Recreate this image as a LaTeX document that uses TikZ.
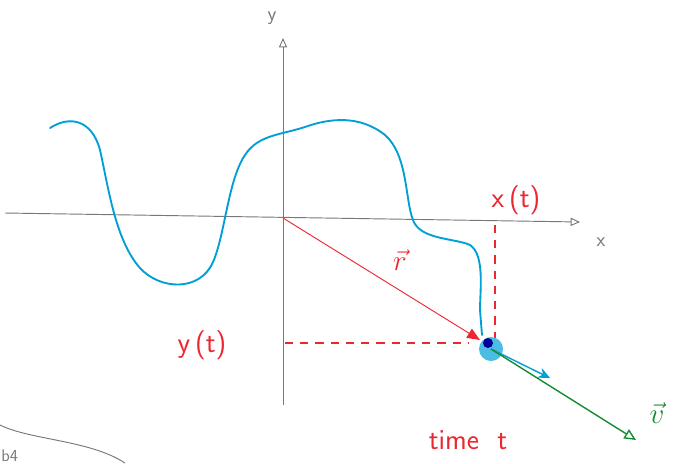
\documentclass[tikz,border=0pt]{standalone}
\usepackage{amsmath,amssymb}
\usepackage{xcolor}
\usetikzlibrary{arrows.meta,positioning}
\definecolor{pen}{RGB}{0,160,214}
\definecolor{redpen}{RGB}{235,40,50}
\definecolor{greenpen}{RGB}{20,140,50}
\definecolor{pencil}{RGB}{120,120,120}
\tikzset{
	thick,
	axis/.style = {draw=pencil, thick, -{Triangle[open,length=8pt,width=7pt]}},
	redlabel/.style = {text=redpen, font=\sffamily\Huge},
	dashguide/.style = {draw=redpen, line width=1.8pt, dashed, dash pattern=on 7pt off 6pt},
}

\begin{document}
\begin{tikzpicture}[x=0.03cm, y=-0.03cm]
		\useasboundingbox (0,0) rectangle (683,463);

		\coordinate (o) at (283,218);
		\coordinate (xleft) at (5,213);
		\coordinate (xright) at (580,222);
		\coordinate (ybot) at (283,405);
		\coordinate (ytop) at (283,38);
		\coordinate (tip) at (480,340);
		\coordinate (p) at (491,349);
		\coordinate (xt) at (495,225);
		\coordinate (xb) at (495,338);
		\coordinate (yt) at (285,343);
		\coordinate (yb) at (468,343);

		\node[text=pencil, font=\sffamily\LARGE] at (272,18) (ylabel) {y};
		\node[text=pencil, font=\sffamily\LARGE] at (601,242) (xlabel) {x};
		\node[redlabel] at (516,200) (xtlabel) {x\,(t)};
		\node[redlabel] at (202,345) (ytlabel) {y\,(t)};
		\node[redlabel] at (400,260) (rlabel) {$\vec{r}$};
		\node[redlabel] at (468,440) (timelabel) {time\ \ t};
		\node[text=greenpen, font=\Huge] at (657,413) (vlabel) {$\vec{v}$};

		\draw[axis] (xleft) -- (xright);
		\draw[axis] (ybot) -- (ytop);

		% path of the particle
		\draw[pen, line width=1.6pt, line cap=round] (50,128)
			.. controls (70,115) and (92,120) .. (100,150)
			.. controls (108,185) and (115,240) .. (140,268)
			.. controls (160,290) and (200,292) .. (213,262)
			.. controls (225,235) and (228,180) .. (245,155)
			.. controls (258,135) and (280,135) .. (305,127)
			.. controls (330,118) and (360,115) .. (385,135)
			.. controls (408,155) and (405,200) .. (413,220)
			.. controls (420,240) and (455,238) .. (470,245)
			.. controls (485,255) and (480,290) .. (480,310)
			-- (482,335);

		\draw[dashguide] (xt) -- (xb);
		\draw[dashguide] (yt) -- (yb);

		\fill[pen!70] (p) circle (12);
		\fill[blue!60!black] (488,343) circle (5);
		\draw[redpen, thick, -{Triangle[length=11pt,width=9pt]}] (o) -- (tip);
		\draw[pen, very thick, -{Stealth[length=10pt,width=9pt]}] (p) -- (550,378);
		\draw[greenpen, very thick, -{Triangle[open,length=10pt,width=9pt]}] (p) -- (636,440);

		% leftover pencil strokes
		\draw[pencil, thick] (0,425) .. controls (30,440) and (90,440) .. (125,463);
		\node[text=pencil, font=\sffamily\Large, anchor=south west, inner sep=1pt] at (0,463) (leftover) {b4};
	\end{tikzpicture}
\end{document}
